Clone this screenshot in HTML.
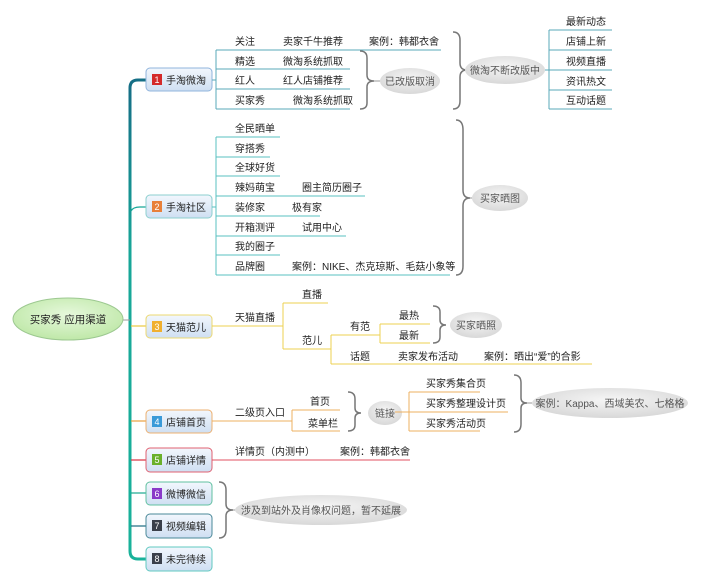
<!DOCTYPE html>
<html><head><meta charset="utf-8"><style>
html,body{margin:0;padding:0;background:#fff;}
svg{display:block;}
text{font-family:"Liberation Sans","Noto Sans CJK SC",sans-serif;font-size:10px;fill:#222;}
.g{fill:#555;}
</style></head><body>
<svg width="702" height="585" viewBox="0 0 702 585" xmlns="http://www.w3.org/2000/svg">
<defs>
<linearGradient id="bx" x1="0" y1="0" x2="0" y2="1"><stop offset="0" stop-color="#f2f7fd"/><stop offset="1" stop-color="#cfdff2"/></linearGradient>
<radialGradient id="el" cx="0.5" cy="0.4" r="0.6"><stop offset="0" stop-color="#f6f6f6"/><stop offset="1" stop-color="#d8d8d8"/></radialGradient>
<radialGradient id="rt" cx="0.5" cy="0.4" r="0.6"><stop offset="0" stop-color="#e6f8dc"/><stop offset="1" stop-color="#bfe8a8"/></radialGradient>
<linearGradient id="sp" x1="0" y1="0" x2="0" y2="1"><stop offset="0" stop-color="#156f86"/><stop offset="0.35" stop-color="#17a698"/><stop offset="1" stop-color="#19b29a"/></linearGradient>
</defs>

<!-- spine -->
<path d="M130,88 Q130,80 138,80 L146,80" fill="none" stroke="#156f86" stroke-width="3"/>
<path d="M130,88 L130,551 Q130,559 138,559 L146,559" fill="none" stroke="url(#sp)" stroke-width="3"/>
<g stroke-width="1.2" fill="none">
<path d="M131,211 Q133,207 140,207 L146,207" stroke="#19a898"/>
<path d="M131,326 L146,326" stroke="#e8c840"/>
<path d="M131,421 L146,421" stroke="#e8a040"/>
<path d="M131,460 L146,460" stroke="#d83040"/>
<path d="M131,493 L146,493" stroke="#19a890"/>
<path d="M131,526 L146,526" stroke="#1a6a80"/>
</g>
<path d="M123,320 L130,320" stroke="#999" stroke-width="1"/>

<!-- root -->
<ellipse cx="68" cy="319" rx="55" ry="21" fill="url(#rt)" stroke="#9cc890" stroke-width="1"/>
<text x="68" y="323" text-anchor="middle" style="font-size:10.5px">买家秀 应用渠道</text>

<!-- boxes -->
<g>
<rect x="146" y="68" width="66" height="23" rx="4" fill="url(#bx)" stroke="#90b4dc"/>
<rect x="152" y="74" width="10" height="11" fill="#d42a2a"/><text x="157" y="83" text-anchor="middle" style="fill:#fff;font-size:9px">1</text>
<text x="166" y="84">手淘微淘</text>

<rect x="146" y="195" width="66" height="23" rx="4" fill="url(#bx)" stroke="#8ccfcf"/>
<rect x="152" y="201" width="10" height="11" fill="#e8803a"/><text x="157" y="210" text-anchor="middle" style="fill:#fff;font-size:9px">2</text>
<text x="166" y="211">手淘社区</text>

<rect x="146" y="315" width="66" height="23" rx="4" fill="url(#bx)" stroke="#ecd870"/>
<rect x="152" y="321" width="10" height="11" fill="#f0b030"/><text x="157" y="330" text-anchor="middle" style="fill:#fff;font-size:9px">3</text>
<text x="166" y="331">天猫范儿</text>

<rect x="146" y="410" width="66" height="23" rx="4" fill="url(#bx)" stroke="#ecb070"/>
<rect x="152" y="416" width="10" height="11" fill="#3a9ad8"/><text x="157" y="425" text-anchor="middle" style="fill:#fff;font-size:9px">4</text>
<text x="166" y="426">店铺首页</text>

<rect x="146" y="448" width="66" height="24" rx="4" fill="url(#bx)" stroke="#e06070"/>
<rect x="152" y="454" width="10" height="11" fill="#6ab02a"/><text x="157" y="463" text-anchor="middle" style="fill:#fff;font-size:9px">5</text>
<text x="166" y="464">店铺详情</text>

<rect x="146" y="482" width="66" height="23" rx="4" fill="url(#bx)" stroke="#60c0a0"/>
<rect x="152" y="488" width="10" height="11" fill="#8a3ac8"/><text x="157" y="497" text-anchor="middle" style="fill:#fff;font-size:9px">6</text>
<text x="166" y="498">微博微信</text>

<rect x="146" y="514" width="66" height="24" rx="4" fill="url(#bx)" stroke="#4a8898"/>
<rect x="152" y="520" width="10" height="11" fill="#3a3f4a"/><text x="157" y="529" text-anchor="middle" style="fill:#fff;font-size:9px">7</text>
<text x="166" y="530">视频编辑</text>

<rect x="146" y="547" width="66" height="24" rx="4" fill="url(#bx)" stroke="#60c8c0"/>
<rect x="152" y="553" width="10" height="11" fill="#3a3f4a"/><text x="157" y="562" text-anchor="middle" style="fill:#fff;font-size:9px">8</text>
<text x="166" y="563">未完待续</text>
</g>

<!-- branch 1 -->
<g fill="none" stroke="#5aa8b8" stroke-width="1">
<path d="M212,80 L216,80"/>
<path d="M216,50 L216,109"/>
<path d="M216,50 L441,50"/>
<path d="M216,69 L350,69"/>
<path d="M216,89 L350,89"/>
<path d="M216,109 L350,109"/>
<path d="M549,30 L549,109"/>
<path d="M549,30 L612,30 M549,50 L612,50 M549,70 L612,70 M549,90 L612,90 M549,109 L612,109"/>
<path d="M545,70 L549,70"/>
</g>
<text x="235" y="45">关注</text><text x="283" y="45">卖家千牛推荐</text><text x="369" y="45">案例：韩都衣舍</text>
<text x="235" y="65">精选</text><text x="283" y="65">微淘系统抓取</text>
<text x="235" y="84">红人</text><text x="283" y="84">红人店铺推荐</text>
<text x="235" y="104">买家秀</text><text x="293" y="104">微淘系统抓取</text>
<text x="566" y="25">最新动态</text><text x="566" y="45">店铺上新</text><text x="566" y="65">视频直播</text><text x="566" y="85">资讯热文</text><text x="566" y="104">互动话题</text>

<!-- braces -->
<g fill="none" stroke="#777" stroke-width="1.5">
<path d="M360,51 Q367,51 367,58 L367,75 Q367,81 374,81 Q367,81 367,87 L367,103 Q367,109 360,109"/>
<path d="M453,32 Q460,32 460,40 L460,63 Q460,70 467,70 Q460,70 460,77 L460,101 Q460,109 453,109"/>
<path d="M456,120 Q463,120 463,130 L463,190 Q463,198 470,198 Q463,198 463,206 L463,266 Q463,275 456,275"/>
<path d="M433,306 Q440,306 440,312 L440,320 Q440,325 446,325 Q440,325 440,330 L440,337 Q440,343 433,343"/>
<path d="M348,392 Q355,392 355,399 L355,408 Q355,413 361,413 Q355,413 355,418 L355,425 Q355,431 348,431"/>
<path d="M514,375 Q521,375 521,383 L521,398 Q521,403 527,403 Q521,403 521,408 L521,424 Q521,432 514,432"/>
<path d="M219,482 Q226,482 226,490 L226,504 Q226,510 233,510 Q226,510 226,516 L226,530 Q226,538 219,538"/>
</g>
<g stroke="#999" stroke-width="1">
<path d="M374,81 L380,81 M467,70 L465,70 M470,198 L472,198 M527,403 L532,403 M233,510 L236,510"/>
</g>

<!-- ellipses -->
<ellipse cx="410" cy="81" rx="30" ry="13" fill="url(#el)"/><text x="410" y="85" text-anchor="middle" class="g">已改版取消</text>
<ellipse cx="505" cy="70" rx="40" ry="14" fill="url(#el)"/><text x="505" y="74" text-anchor="middle" class="g">微淘不断改版中</text>
<ellipse cx="500" cy="198" rx="28" ry="13" fill="url(#el)"/><text x="500" y="202" text-anchor="middle" class="g">买家晒图</text>
<ellipse cx="476" cy="325" rx="26" ry="13" fill="url(#el)"/><text x="476" y="329" text-anchor="middle" class="g">买家晒照</text>
<ellipse cx="385" cy="413" rx="17" ry="12" fill="url(#el)"/><text x="385" y="417" text-anchor="middle" class="g">链接</text>
<ellipse cx="610" cy="403" rx="78" ry="15" fill="url(#el)"/><text x="610" y="407" text-anchor="middle" class="g">案例：Kappa、西域美农、七格格</text>
<ellipse cx="321" cy="510" rx="86" ry="15" fill="url(#el)"/><text x="321" y="514" text-anchor="middle" class="g">涉及到站外及肖像权问题，暂不延展</text>

<!-- branch 2 -->
<g fill="none" stroke="#5ac0c0" stroke-width="1">
<path d="M212,207 L216,207"/>
<path d="M216,137 L216,275"/>
<path d="M216,137 L280,137 M216,157 L270,157 M216,176 L280,176 M216,196 L365,196 M216,216 L320,216 M216,236 L346,236 M216,255 L280,255 M216,275 L450,275"/>
</g>
<text x="235" y="132">全民晒单</text>
<text x="235" y="152">穿搭秀</text>
<text x="235" y="171">全球好货</text>
<text x="235" y="191">辣妈萌宝</text><text x="302" y="191">圈主简历圈子</text>
<text x="235" y="211">装修家</text><text x="292" y="211">极有家</text>
<text x="235" y="231">开箱测评</text><text x="302" y="231">试用中心</text>
<text x="235" y="250">我的圈子</text>
<text x="235" y="270">品牌圈</text><text x="292" y="270">案例：NIKE、杰克琼斯、毛菇小象等</text>

<!-- branch 3 -->
<g fill="none" stroke="#ecd050" stroke-width="1">
<path d="M212,326 L283,326"/>
<path d="M283,303 L283,349"/>
<path d="M283,303 L328,303 M283,349 L331,349"/>
<path d="M331,335 L331,364"/>
<path d="M331,335 L380,335 M331,364 L592,364"/>
<path d="M380,324 L380,343"/>
<path d="M380,324 L430,324 M380,343 L430,343"/>
</g>
<text x="235" y="321">天猫直播</text>
<text x="302" y="298">直播</text>
<text x="302" y="344">范儿</text>
<text x="350" y="330">有范</text>
<text x="399" y="319">最热</text>
<text x="399" y="339">最新</text>
<text x="350" y="360">话题</text><text x="398" y="360">卖家发布活动</text><text x="484" y="360">案例：晒出“爱”的合影</text>

<!-- branch 4 -->
<g fill="none" stroke="#eeb060" stroke-width="1">
<path d="M212,421 L292,421"/>
<path d="M292,410 L292,431"/>
<path d="M292,410 L340,410 M292,431 L340,431"/>
<path d="M409,392 L409,431"/>
<path d="M409,392 L480,392 M395,412 L508,412 M409,431 L480,431"/>
</g>
<text x="235" y="416">二级页入口</text>
<text x="310" y="405">首页</text>
<text x="308" y="427">菜单栏</text>
<text x="426" y="387">买家秀集合页</text>
<text x="426" y="407">买家秀整理设计页</text>
<text x="426" y="427">买家秀活动页</text>

<!-- branch 5 -->
<path d="M212,460 L410,460" stroke="#e05060" stroke-width="1" fill="none"/>
<text x="235" y="455">详情页（内测中）</text>
<text x="340" y="455">案例：韩都衣舍</text>
</svg>
</body></html>
